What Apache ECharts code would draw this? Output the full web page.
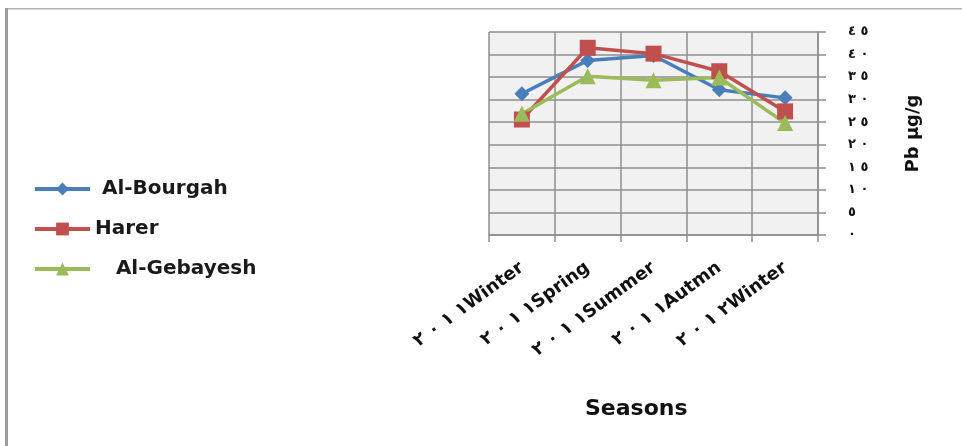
<!DOCTYPE html>
<html>
<head>
<meta charset="utf-8">
<script src="https://cdn.jsdelivr.net/npm/echarts@6/dist/echarts.min.js"></script>
<style>
  html, body { margin: 0; padding: 0; background: #fff; }
  #chart { width: 962px; height: 446px; }
</style>
</head>
<body>
<div id="chart"></div>
<script>
// Seasons sampled: year (Arabic-Indic digits) followed by the season
const seasonYears = ['٢٠١١', '٢٠١١', '٢٠١١', '٢٠١١', '٢٠١٢'];
const seasonNames = ['Winter', 'Spring', 'Summer', 'Autmn', 'Winter'];

// Lead (Pb) concentration, µg/g, per site
const alBourgah  = [31.3, 38.7, 39.8, 32.2, 30.4];
const harer      = [25.6, 41.5, 40.2, 36.3, 27.4];
const alGebayesh = [26.9, 35.2, 34.3, 34.9, 24.8];

// Value axis ticks
const yMin = 0, yMax = 45, yStep = 5;

const LRM = '\u200E';
const arabicDigits = '٠١٢٣٤٥٦٧٨٩';
// spaced digits; LRM keeps them in left-to-right order
const spaced = s => s.split('').map(c => LRM + c).join(' ');
const toArabic = v => spaced(String(v).split('').map(d => arabicDigits[+d]).join(''));

const categories = seasonNames.map((n, i) => spaced(seasonYears[i]) + LRM + n);

const FONT = '"DejaVu Sans", sans-serif';
const gridColor = '#8e8e8e';

const chart = echarts.init(document.getElementById('chart'));

function lineSeries(name, data, color, symbol, size) {
  return {
    name, type: 'line', data,
    symbol, symbolSize: size,
    lineStyle: { color, width: 3.5 },
    itemStyle: { color },
    emphasis: { disabled: true },
    animation: false
  };
}

chart.setOption({
  animation: false,
  grid: {
    left: 489, right: 144, top: 32, bottom: 211,
    show: true, backgroundColor: '#f1f1f1', borderWidth: 0
  },
  legend: {
    orient: 'vertical',
    left: 28, top: 174,
    itemWidth: 55, itemHeight: 16, itemGap: 20,
    lineStyle: { width: 4 },
    textStyle: { fontFamily: FONT, fontWeight: 'bold', fontSize: 20, color: '#1a1a1a' },
    formatter: n => ({ 'Al-Bourgah': ' Al-Bourgah', 'Harer': 'Harer', 'Al-Gebayesh': '   Al-Gebayesh' }[n]),
    data: ['Al-Bourgah', 'Harer', 'Al-Gebayesh']
  },
  xAxis: {
    type: 'category',
    data: categories,
    boundaryGap: true,
    axisLine: { show: true, lineStyle: { color: gridColor, width: 1.5 } },
    axisTick: { show: true, alignWithLabel: false, length: 7, lineStyle: { color: gridColor, width: 1.5 } },
    splitLine: { show: true, lineStyle: { color: gridColor, width: 1.5 } },
    axisLabel: {
      rotate: 36, margin: 31, interval: 0,
      fontFamily: FONT, fontWeight: 'bold', fontSize: 18, color: '#111'
    }
  },
  yAxis: {
    type: 'value',
    position: 'right',
    min: yMin, max: yMax, interval: yStep,
    axisLine: { show: true, lineStyle: { color: gridColor, width: 1.5 } },
    axisTick: { show: true, length: 8, lineStyle: { color: gridColor, width: 1.5 } },
    splitLine: { show: true, lineStyle: { color: gridColor, width: 1.5 } },
    axisLabel: {
      margin: 30, fontFamily: FONT, fontWeight: 'bold', fontSize: 13, color: '#111',
      formatter: v => toArabic(v)
    },
    name: 'Pb µg/g',
    nameLocation: 'middle',
    nameRotate: 90,
    nameGap: 86,
    nameTextStyle: { fontFamily: FONT, fontWeight: 'bold', fontSize: 18, color: '#111' }
  },
  graphic: [
    { type: 'rect', shape: { x: 5, y: 8, width: 957, height: 1.5 }, style: { fill: '#b4b4b4' }, silent: true },
    { type: 'rect', shape: { x: 5, y: 8, width: 3, height: 438 }, style: { fill: '#9c9c9c' }, silent: true },
    {
      type: 'text', left: 585, top: 398, silent: true,
      style: { text: 'Seasons', fontFamily: FONT, fontWeight: 'bold', fontSize: 22, fill: '#111' }
    }
  ],
  series: [
    lineSeries('Al-Bourgah', alBourgah, '#4a7ebb', 'diamond', 15),
    lineSeries('Harer', harer, '#c0504d', 'rect', 16),
    lineSeries('Al-Gebayesh', alGebayesh, '#9bbb59', 'triangle', 16)
  ]
});
</script>
</body>
</html>
